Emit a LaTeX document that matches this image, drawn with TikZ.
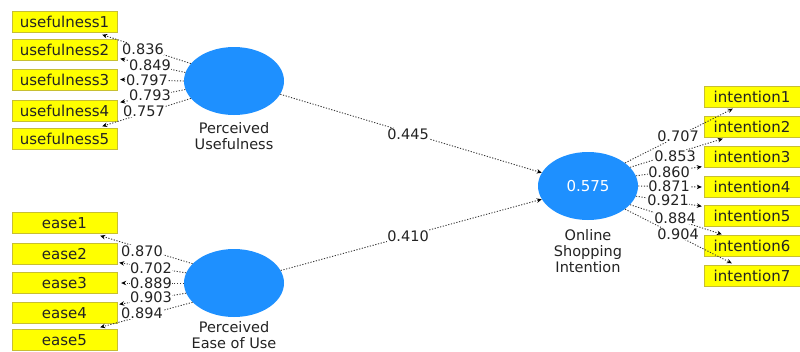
\documentclass[tikz,border=0pt]{standalone}
\usepackage{fontspec}
\setmainfont{DejaVu Sans}
\usetikzlibrary{shapes.geometric,arrows.meta}
\definecolor{lvblue}{RGB}{30,144,255}
\definecolor{boxyellow}{RGB}{255,255,0}
\definecolor{txtgray}{RGB}{35,35,35}
\begin{document}
\begin{tikzpicture}[x=1pt,y=-1pt,
  ind/.style={rectangle, fill=boxyellow, draw=yellow!75!black, line width=0.4pt, minimum width=105pt, minimum height=21pt, inner sep=0pt, font=\fontsize{15}{16}\selectfont, text=txtgray},
  indr/.style={ind, minimum width=96pt},
  lv/.style={ellipse, fill=lvblue, minimum width=100pt, minimum height=68pt, inner sep=0pt},
  lvlabel/.style={align=center, font=\fontsize{14.5}{16}\selectfont, text=txtgray},
  load/.style={draw=gray!45!black, line width=0.9pt, dash pattern=on 1.2pt off 1.6pt, -{Stealth[length=5pt,width=4.5pt,color=black]}},
  num/.style={font=\fontsize{14.5}{16}\selectfont, text=txtgray, fill=white, inner sep=0.5pt}
]
\useasboundingbox (0,0) rectangle (800,351);
\clip (0,0) rectangle (800,351);

% Perceived Usefulness
\node[lv] (pu) at (234,81) {};
\node[lvlabel] (pul) at (234,136) {Perceived\\Usefulness};
\node[ind] (u1) at (64.5,22) {usefulness1};
\node[ind] (u2) at (64.5,50) {usefulness2};
\node[ind] (u3) at (64.5,79.5) {usefulness3};
\node[ind] (u4) at (64.5,111) {usefulness4};
\node[ind] (u5) at (64.5,139) {usefulness5};

% Perceived Ease of Use
\node[lv] (pe) at (234,283) {};
\node[lvlabel] (pel) at (234,335) {Perceived\\Ease of Use};
\node[ind] (e1) at (64.5,223) {ease1};
\node[ind] (e2) at (64.5,254) {ease2};
\node[ind] (e3) at (64.5,283) {ease3};
\node[ind] (e4) at (64.5,313) {ease4};
\node[ind] (e5) at (64.5,340) {ease5};

% Online Shopping Intention
\node[lv, text=white, font=\fontsize{15}{16}\selectfont] (osi) at (588,186) {0.575};
\node[lvlabel] (osil) at (588,251) {Online\\Shopping\\Intention};
\node[indr] (i1) at (752,97) {intention1};
\node[indr] (i2) at (752,127) {intention2};
\node[indr] (i3) at (752,157) {intention3};
\node[indr] (i4) at (752,187) {intention4};
\node[indr] (i5) at (752,216) {intention5};
\node[indr] (i6) at (752,246) {intention6};
\node[indr] (i7) at (752,276) {intention7};

% usefulness loadings
\draw[load] (pu.158) -- ([xshift=-15pt,yshift=-2pt]u1.south east);
\draw[load] (pu.170) -- ([xshift=3pt,yshift=2pt]u2.south east);
\draw[load] (pu.180) -- ([xshift=3pt]u3.east);
\draw[load] (pu.190) -- ([xshift=3pt,yshift=-2pt]u4.north east);
\draw[load] (pu.202) -- ([xshift=-15pt,yshift=2pt]u5.north east);
\node[num] (l1) at (143,49) {0.836};
\node[num] (l2) at (150,65) {0.849};
\node[num] (l3) at (147,80) {0.797};
\node[num] (l4) at (150,95) {0.793};
\node[num] (l5) at (144,111) {0.757};

% ease loadings
\draw[load] (pe.155) -- ([xshift=-17pt,yshift=-2pt]e1.south east);
\draw[load] (pe.168) -- ([xshift=2pt,yshift=2pt]e2.south east);
\draw[load] (pe.180) -- ([xshift=4pt]e3.east);
\draw[load] (pe.192) -- ([xshift=2pt,yshift=-2pt]e4.north east);
\draw[load] (pe.205) -- ([xshift=-17pt,yshift=2pt]e5.north east);
\node[num] (m1) at (142,251) {0.870};
\node[num] (m2) at (151,268) {0.702};
\node[num] (m3) at (151,283) {0.889};
\node[num] (m4) at (151,297) {0.903};
\node[num] (m5) at (142,313) {0.894};

% intention loadings
\draw[load] (osi.32) -- ([xshift=29pt,yshift=-1pt]i1.south west);
\draw[load] (osi.24) -- ([xshift=19pt,yshift=-1pt]i2.south west);
\draw[load] (osi.12) -- ([xshift=-2pt,yshift=1pt]i3.south west);
\draw[load] (osi.0) -- ([xshift=-2pt]i4.west);
\draw[load] (osi.-12) -- ([xshift=-2pt,yshift=-1pt]i5.north west);
\draw[load] (osi.-24) -- ([xshift=18pt,yshift=1pt]i6.north west);
\draw[load] (osi.-32) -- ([xshift=28pt,yshift=2pt]i7.north west);
\node[num] (n1) at (678,136) {0.707};
\node[num] (n2) at (675,156) {0.853};
\node[num] (n3) at (669,172) {0.860};
\node[num] (n4) at (669,186) {0.871};
\node[num] (n5) at (668,200) {0.921};
\node[num] (n6) at (675,218) {0.884};
\node[num] (n7) at (678,234) {0.904};

% structural paths
\draw[load] (pu.-16) -- (osi.164);
\draw[load] (pe.15) -- (osi.196);
\node[num] (p1) at (408,134) {0.445};
\node[num] (p2) at (408,236) {0.410};
\end{tikzpicture}
\end{document}
